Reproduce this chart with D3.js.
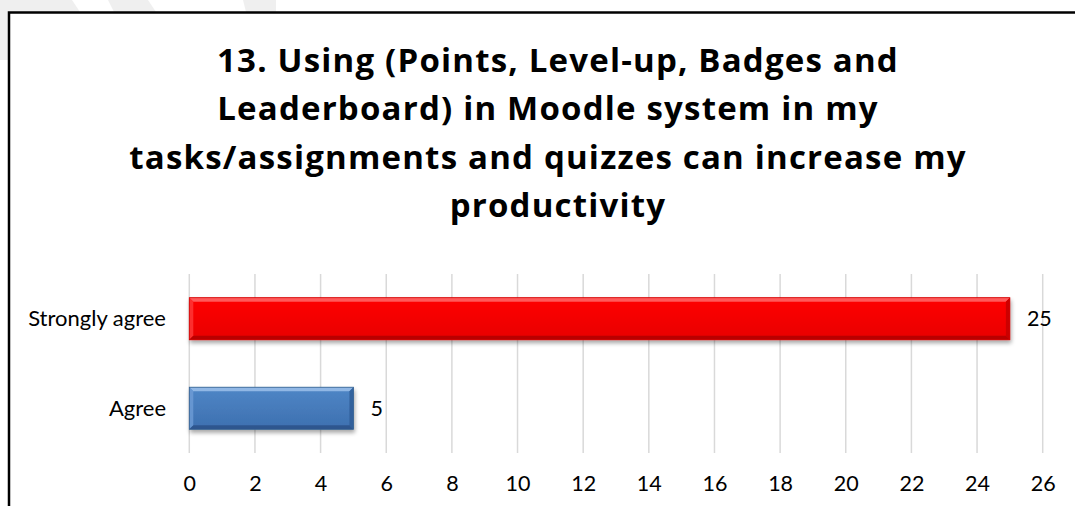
<!DOCTYPE html>
<html>
<head>
<meta charset="utf-8">
<script src="https://cdn.jsdelivr.net/npm/d3@7"></script>
<style>
  html, body { margin: 0; padding: 0; background: #ffffff; }
  svg { display: block; }
</style>
</head>
<body>
<svg id="chart" width="1075" height="506"></svg>
<script>
// ---- data ----
const titleLines = [
  "13. Using (Points, Level-up, Badges and",
  "Leaderboard) in Moodle system in my",
  "tasks/assignments and quizzes can increase my",
  "productivity"
];
const categories = ["Strongly agree", "Agree"];
const values = [25, 5];
const barColors = ["red", "blue"];
const xTicks = [0, 2, 4, 6, 8, 10, 12, 14, 16, 18, 20, 22, 24, 26];

// ---- palettes for bevelled bars ----
const palette = {
  red:  { top: "#ff6a6a", mid: "#ff0000", low: "#e80000", left: "#ff3a3a", right: "#c40000", bottom: "#b00000", stroke: "#d00000" },
  blue: { top: "#9cc0ea", mid: "#4f86c6", low: "#3d70b0", left: "#6e9cd6", right: "#2f5d96", bottom: "#2a5288", stroke: "#35608f" }
};

const svg = d3.select("#chart");
const W = 1075, H = 506;
const defs = svg.append("defs");
const FONT = "Lato, 'Open Sans', sans-serif";

// faint watermark pieces behind the chart frame
const wm = svg.append("g").attr("fill", "#efefef");
wm.append("polygon").attr("points", "0,0 72,0 80,12 0,12");
wm.append("polygon").attr("points", "108,0 148,0 156,12 114,12");
wm.append("polygon").attr("points", "243,0 276,0 276,12 246,12");
wm.append("polygon").attr("points", "0,12 8,12 8,60 0,60");

// chart frame
svg.append("rect")
  .attr("x", 9).attr("y", 12.5)
  .attr("width", W + 20).attr("height", H + 20)
  .attr("fill", "#ffffff")
  .attr("stroke", "#000000").attr("stroke-width", 2.5);

// title (wrapped lines 2 and 3 carry a trailing space in the original, shifting them left)
const titleShift = [0, -10, -10, 0];
const title = svg.append("text")
  .attr("text-anchor", "middle")
  .attr("font-family", "'Open Sans', Lato, sans-serif")
  .attr("font-weight", "bold")
  .attr("font-size", 33)
  .attr("letter-spacing", "1.2px")
  .attr("fill", "#000");
titleLines.forEach((t, i) => {
  title.append("tspan").attr("x", 558 + titleShift[i]).attr("y", 72 + i * 48.3).text(t);
});

// scales
const x = d3.scaleLinear().domain([0, 26]).range([189.3, 1042.7]);
const y = d3.scaleBand().domain(categories).range([274, 453]).paddingInner(0.53).paddingOuter(0.265);

// gridlines
svg.append("g")
  .selectAll("line")
  .data(xTicks)
  .join("line")
  .attr("x1", d => x(d)).attr("x2", d => x(d))
  .attr("y1", 274).attr("y2", 453)
  .attr("stroke", "#d9d9d9").attr("stroke-width", 1.5);

// x axis (labels only)
const xAxis = d3.axisBottom(x).tickValues(xTicks).tickSize(0).tickPadding(0).tickFormat(d3.format("d"));
const gx = svg.append("g").attr("transform", "translate(0,476)").call(xAxis);
gx.select(".domain").remove();
gx.selectAll("text")
  .attr("font-family", FONT)
  .attr("font-size", 21.5)
  .attr("fill", "#000")
  .attr("dy", "0.71em");

// y axis (labels only)
const yAxis = d3.axisLeft(y).tickSize(0).tickPadding(0);
const gy = svg.append("g").attr("transform", "translate(166,0)").call(yAxis);
gy.select(".domain").remove();
gy.selectAll("text")
  .attr("font-family", FONT)
  .attr("font-size", 22)
  .attr("fill", "#000")
  .attr("dy", "0.35em");

// shadow filter
const f = defs.append("filter").attr("id", "shadow").attr("x", "-5%").attr("y", "-30%").attr("width", "110%").attr("height", "170%");
f.append("feGaussianBlur").attr("in", "SourceAlpha").attr("stdDeviation", 2).attr("result", "b");
f.append("feOffset").attr("in", "b").attr("dx", 1).attr("dy", 3).attr("result", "o");
f.append("feComponentTransfer").attr("in", "o").attr("result", "s")
  .append("feFuncA").attr("type", "linear").attr("slope", 0.35);
const fm = f.append("feMerge");
fm.append("feMergeNode").attr("in", "s");
fm.append("feMergeNode").attr("in", "SourceGraphic");

// gradients
Object.entries(palette).forEach(([k, p]) => {
  const g = defs.append("linearGradient").attr("id", "grad-" + k).attr("x1", 0).attr("y1", 0).attr("x2", 0).attr("y2", 1);
  g.append("stop").attr("offset", "0%").attr("stop-color", p.mid);
  g.append("stop").attr("offset", "100%").attr("stop-color", p.low);
});

// bars with bevel
const bev = 4;
const bars = svg.append("g")
  .selectAll("g")
  .data(categories.map((c, i) => ({ c, v: values[i], col: barColors[i] })))
  .join("g")
  .attr("filter", "url(#shadow)");

bars.each(function(d) {
  const g = d3.select(this);
  const p = palette[d.col];
  const x0 = x(0), x1 = x(d.v), y0 = y(d.c), y1 = y(d.c) + y.bandwidth();
  g.append("rect").attr("x", x0).attr("y", y0).attr("width", x1 - x0).attr("height", y1 - y0)
    .attr("fill", "url(#grad-" + d.col + ")");
  g.append("polygon").attr("fill", p.top).attr("opacity", 0.85)
    .attr("points", [[x0, y0], [x1, y0], [x1 - bev, y0 + bev], [x0 + bev, y0 + bev]].join(" "));
  g.append("polygon").attr("fill", p.left).attr("opacity", 0.8)
    .attr("points", [[x0, y0], [x0 + bev, y0 + bev], [x0 + bev, y1 - bev], [x0, y1]].join(" "));
  g.append("polygon").attr("fill", p.right).attr("opacity", 0.85)
    .attr("points", [[x1, y0], [x1, y1], [x1 - bev, y1 - bev], [x1 - bev, y0 + bev]].join(" "));
  g.append("polygon").attr("fill", p.bottom).attr("opacity", 0.85)
    .attr("points", [[x0, y1], [x0 + bev, y1 - bev], [x1 - bev, y1 - bev], [x1, y1]].join(" "));
  g.append("rect").attr("x", x0).attr("y", y0).attr("width", x1 - x0).attr("height", y1 - y0)
    .attr("fill", "none").attr("stroke", p.stroke).attr("stroke-width", 0.8);
});

// value labels
svg.append("g")
  .selectAll("text")
  .data(categories.map((c, i) => ({ c, v: values[i] })))
  .join("text")
  .attr("x", d => x(d.v) + 17)
  .attr("y", d => y(d.c) + y.bandwidth() / 2)
  .attr("dy", "0.35em")
  .attr("font-family", FONT)
  .attr("font-size", 21.5)
  .attr("fill", "#000")
  .text(d => d.v);
</script>
</body>
</html>
